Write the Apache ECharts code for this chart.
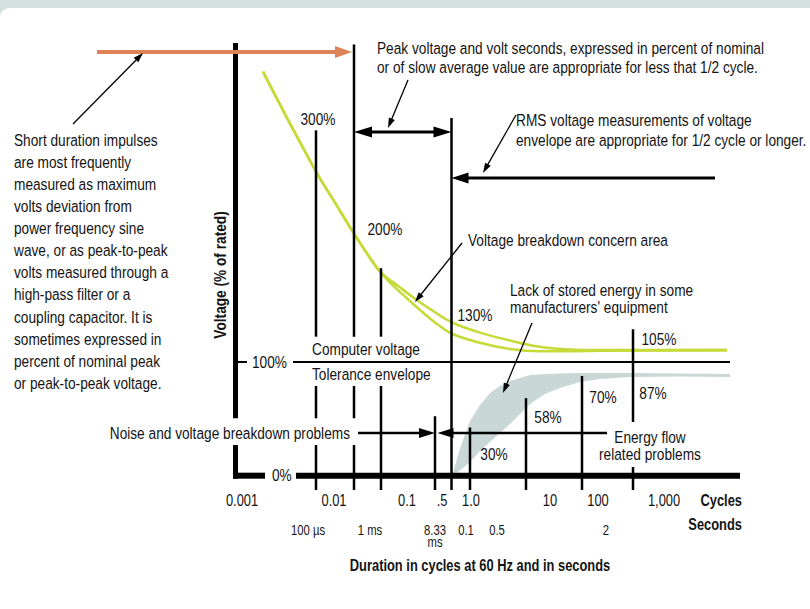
<!DOCTYPE html>
<html><head><meta charset="utf-8">
<script src="https://cdn.jsdelivr.net/npm/echarts@6/dist/echarts.min.js"></script>
<style>html,body{margin:0;padding:0;background:#d5dfdf}#c{width:810px;height:609px}</style>
</head><body><div id="c"></div>
<script>
// ===== DATA (x = position along the duration axis in diagram units, y = voltage in % of rated) =====
const yTickValues = [0, 100];
const yTickLabels = ['0%', '100%'];
const yTickLabelX = [35, 15];

const cycleTickLabels = ['0.001', '0.01', '0.1', '.5', '1.0', '10', '100', '1,000'];
const cycleTickPos = [5, 97, 170, 205, 234, 313, 361, 427];
const secondTickLabels = ['100 µs', '1 ms', '8.33\nms', '0.1', '0.5', '2'];
const secondTickPos = [71, 133, 198, 229, 260, 369];

// vertical duration markers: position, top (%), gaps hidden by text [hi, lo]
const markerPos = [79, 117, 144, 198, 214.5, 233, 289, 345, 396];
const markerTop = [305, 381, 183, 52, 316, 42, 68, 87.6, 129];
const markerGaps = [
  [[122.4, 78.8], [50.2, 26.5]],
  [[122.4, 78.8], [50.2, 26.5]],
  [[122.4, 78.8]],
  [], [], [], [], [],
  [[46.9, 7.1]]
];
const markerBottom = -13.3;

const levelLabels = ['300%', '200%', '130%', '105%', '87%', '70%', '58%', '30%'];
const levelLabelX = [81, 148, 238, 422, 416, 366, 311, 257];
const levelLabelY = [315, 217.7, 141.6, 120.4, 72.6, 69, 51.3, 18.6];

// computer voltage tolerance envelope (upper, overvoltage) - two boundaries
const upperEnvX = [26, 53, 80, 98, 116, 130, 143, 163, 178, 198, 215, 243, 273, 303, 333, 363, 490];
const upperEnvY = [357, 311, 267, 241, 215, 196, 180, 166, 156, 144, 135, 126, 119, 113.5, 111, 110.5, 110.5];
const lowerEnvX = [26, 53, 80, 98, 116, 130, 143, 158, 178, 198, 215, 243, 273, 303, 333, 363, 490];
const lowerEnvY = [357, 311, 267, 241, 215, 196, 180, 166, 150, 135, 125, 117, 111.5, 109.5, 109.5, 110, 110.5];

// lack of stored energy band (undervoltage)
const bandX = [216, 221, 226, 233, 243, 253, 263, 273, 283, 293, 308, 323, 343, 363, 393, 443, 493];
const bandUpper = [1.8, 17.7, 31.0, 47.8, 61.9, 72.6, 78.8, 83.2, 85.8, 88.5, 89.4, 89.8, 90.3, 90.3, 90.3, 89.8, 89.4];
const bandLower = [0, 2.7, 6.2, 11.5, 21.2, 29.2, 37.2, 45.1, 54.0, 62.8, 71.7, 77.0, 82.3, 85.0, 86.7, 87.2, 86.7];

// axis frame
const yAxisFrame = [[-1.5, 382.3, -1.5, 50.2], [-1.5, 26.5, -1.5, -3.3]];
const xAxisFrame = [[-4, -0.6, 28, -0.6], [59, -0.6, 503, -0.6]];
const nominalLine = [[0, 100, 10, 100], [56, 100, 493, 100]];

// arrows [x1, y1, x2, y2]
const impulseArrow = [[-140, 374.3, 115, 374.3]];
const peakRange = [[117, 303.5, 214.5, 303.5]];
const rmsArrow = [[478, 262.8, 214.5, 262.8]];
const noiseArrows = [[121, 37.2, 198, 37.2], [370, 37.2, 200.5, 37.2]];
const pointers = [
  [-164, 310.6, -94, 373.5],
  [171, 349.6, 151, 307.1],
  [279, 318.6, 246, 267.3],
  [225, 205.3, 178, 153.1],
  [295, 134.5, 266, 72.6]
];

// annotations
const leftNote = 'Short duration impulses\nare most frequently\nmeasured as maximum\nvolts deviation from\npower frequency sine\nwave, or as peak-to-peak\nvolts measured through a\nhigh-pass filter or a\ncoupling capacitor. It is\nsometimes expressed in\npercent of nominal peak\nor peak-to-peak voltage.';
const notes = ['Peak voltage and volt seconds, expressed in percent of nominal',
  'or of slow average value are appropriate for less that 1/2 cycle.',
  'RMS voltage measurements of voltage',
  'envelope are appropriate for 1/2 cycle or longer.',
  'Voltage breakdown concern area',
  'Lack of stored energy in some',
  "manufacturers' equipment",
  'Computer voltage',
  'Tolerance envelope'];
const notesX = [140, 140, 279, 279, 231, 273, 273, 75, 75];
const notesY = [377.9, 361.1, 314.2, 296.5, 208, 163.7, 148.7, 111.5, 89.4];
const energyNote = ['Energy flow', 'related problems'];
const energyNoteX = [413, 413];
const energyNoteY = [33.6, 18.6];
const noiseNote = 'Noise and voltage breakdown problems';

// ===== RENDER =====
const FONT = '"Liberation Sans", Arial, sans-serif';
const NARROW = 0.805;
const chart = echarts.init(document.getElementById('c'), null, {renderer: 'svg', width: 810, height: 609});

function segSeries(name, data, lw, color, z) {
  return {
    type: 'custom', name, coordinateSystem: 'cartesian2d', silent: true, z: z || 4, data,
    renderItem: (params, api) => {
      const a = api.coord([api.value(0), api.value(1)]);
      const b = api.coord([api.value(2), api.value(3)]);
      return {type: 'line', shape: {x1: a[0], y1: a[1], x2: b[0], y2: b[1]},
        style: {stroke: color || '#000', lineWidth: lw, lineCap: 'butt'}};
    }
  };
}

function arrowSeries(name, data, o) {
  return {
    type: 'custom', name, coordinateSystem: 'cartesian2d', silent: true, z: o.z || 6, data,
    renderItem: (params, api) => {
      const p1 = api.coord([api.value(0), api.value(1)]);
      const p2 = api.coord([api.value(2), api.value(3)]);
      const dx = p2[0] - p1[0], dy = p2[1] - p1[1], L = Math.hypot(dx, dy);
      const ux = dx / L, uy = dy / L, nx = -uy, ny = ux;
      const head = (tip, sx, sy) => {
        const bx = tip[0] - sx * o.hl, by = tip[1] - sy * o.hl;
        return {type: 'polygon', shape: {points: [tip, [bx + nx * o.hw / 2, by + ny * o.hw / 2], [bx - nx * o.hw / 2, by - ny * o.hw / 2]]},
          style: {fill: o.color}};
      };
      let a = p1, b = p2;
      const kids = [];
      kids.push(head(p2, ux, uy));
      b = [p2[0] - ux * o.hl * 0.7, p2[1] - uy * o.hl * 0.7];
      if (o.both) {
        kids.push(head(p1, -ux, -uy));
        a = [p1[0] + ux * o.hl * 0.7, p1[1] + uy * o.hl * 0.7];
      }
      kids.unshift({type: 'line', shape: {x1: a[0], y1: a[1], x2: b[0], y2: b[1]}, style: {stroke: o.color, lineWidth: o.w}});
      return {type: 'group', children: kids};
    }
  };
}

function textSeries(name, texts, xs, ys, st, rot) {
  return {
    type: 'custom', name, coordinateSystem: 'cartesian2d', silent: true, z: 10,
    data: xs.map((x, i) => [x, ys[i]]),
    renderItem: (params, api) => {
      const p = api.coord([api.value(0), api.value(1)]);
      return {type: 'text', x: p[0], y: p[1], rotation: rot || 0, scaleX: NARROW, scaleY: 1,
        style: Object.assign({text: texts[params.dataIndex], fill: '#141414', fontFamily: FONT, fontSize: 17,
          align: 'left', verticalAlign: 'middle'}, st)};
    }
  };
}

// build vertical marker segments
const markerSegs = [];
markerPos.forEach((x, i) => {
  let top = markerTop[i];
  markerGaps[i].forEach(g => { markerSegs.push([x, top, x, g[0]]); top = g[1]; });
  markerSegs.push([x, top, x, markerBottom]);
});

const option = {
  animation: false,
  backgroundColor: '#d5dfdf',
  graphic: [{type: 'rect', shape: {x: 0, y: 8, width: 840, height: 640, r: 9}, style: {fill: '#ffffff'}, z: -10, silent: true}],
  grid: {left: 7, width: 800, top: 23, height: 565},
  xAxis: {type: 'value', min: -230, max: 570, show: false},
  yAxis: {type: 'value', min: -100, max: 400, show: false},
  series: [
    {
      type: 'custom', name: 'Lack of stored energy', coordinateSystem: 'cartesian2d', silent: true, z: 1,
      data: [[bandX[0], bandUpper[0]]],
      renderItem: (params, api) => {
        const up = bandX.map((x, i) => api.coord([x, bandUpper[i]]));
        const lo = bandX.map((x, i) => api.coord([x, bandLower[i]])).reverse();
        return {type: 'polygon', shape: {points: up.concat(lo)}, style: {fill: '#c9d7d7'}};
      }
    },
    {type: 'line', name: 'Envelope upper', data: upperEnvX.map((x, i) => [x, upperEnvY[i]]), smooth: 0.35,
      symbol: 'none', silent: true, z: 2, lineStyle: {color: '#c6da3a', width: 2.6}},
    {type: 'line', name: 'Envelope lower', data: lowerEnvX.map((x, i) => [x, lowerEnvY[i]]), smooth: 0.35,
      symbol: 'none', silent: true, z: 2, lineStyle: {color: '#c6da3a', width: 2.6}},
    segSeries('markers', markerSegs, 2.5, '#000', 3),
    segSeries('nominal', nominalLine, 2, '#000', 3),
    segSeries('yFrame', yAxisFrame, 5, '#000', 4),
    segSeries('xFrame', xAxisFrame, 6, '#000', 4),
    arrowSeries('impulse', impulseArrow, {w: 4, hl: 17, hw: 12, color: '#dc8458'}),
    arrowSeries('peakRange', peakRange, {w: 3, hl: 18, hw: 11, color: '#000', both: true}),
    arrowSeries('rms', rmsArrow, {w: 3, hl: 17, hw: 11, color: '#000'}),
    arrowSeries('noise', noiseArrows, {w: 2.5, hl: 16, hw: 10, color: '#000'}),
    arrowSeries('pointers', pointers, {w: 1.3, hl: 10, hw: 6.5, color: '#000'}),
    textSeries('leftNote', [leftNote], [-223], [306.5], {verticalAlign: 'top', lineHeight: 22.1}),
    textSeries('yTitle', ['Voltage (% of rated)'], [-17], [177], {align: 'center', fontWeight: 'bold'}, Math.PI / 2),
    textSeries('notes', notes, notesX, notesY, {}),
    textSeries('noiseNote', [noiseNote], [113], [37.2], {align: 'right'}),
    textSeries('energyNote', energyNote, energyNoteX, energyNoteY, {align: 'center'}),
    textSeries('levels', levelLabels, levelLabelX, levelLabelY, {align: 'center'}),
    textSeries('yTicks', yTickLabels, yTickLabelX, yTickValues, {align: 'left'}),
    textSeries('cycleTicks', cycleTickLabels, cycleTickPos, cycleTickPos.map(() => -23), {align: 'center', fontSize: 16}),
    textSeries('secondTicks', secondTickLabels, secondTickPos, secondTickPos.map(() => -43.5), {align: 'center', fontSize: 14, verticalAlign: 'top', lineHeight: 12}),
    textSeries('units', ['Cycles', 'Seconds'], [505, 505], [-23, -44], {align: 'right', fontWeight: 'bold', fontSize: 16}),
    textSeries('xTitle', ['Duration in cycles at 60 Hz and in seconds'], [243], [-80], {align: 'center', fontWeight: 'bold', fontSize: 16})
  ]
};
chart.setOption(option);
</script></body></html>
